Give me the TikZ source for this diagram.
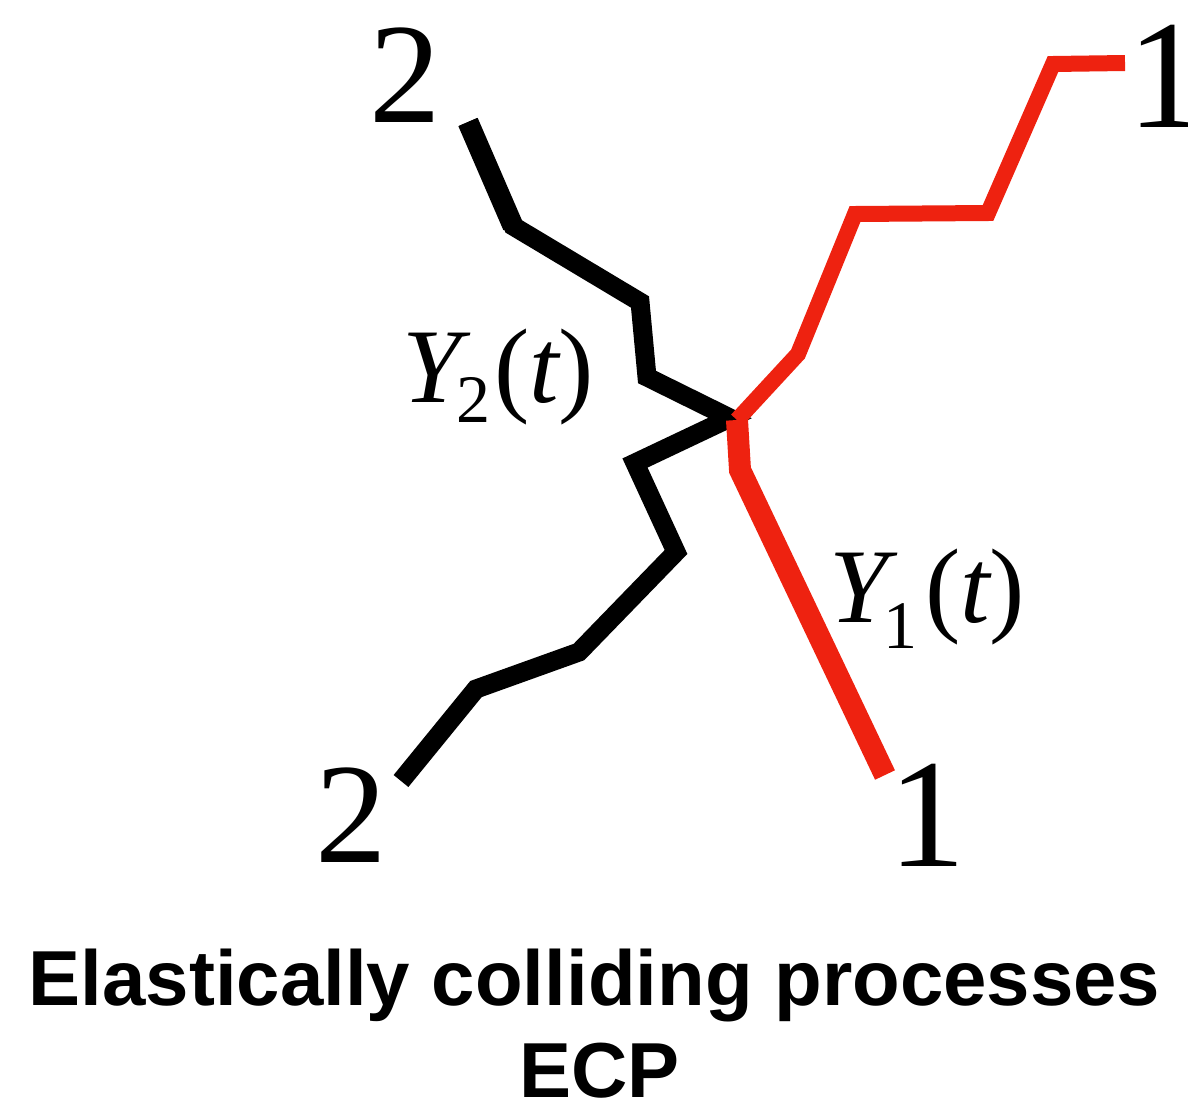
\documentclass[tikz,border=0pt]{standalone}
\usepackage{fontspec}
\setmainfont{Liberation Serif}
\newfontfamily\titlefont{Liberation Sans}
\definecolor{pathred}{RGB}{238,34,16}
\tikzset{
  lbltwo/.style={anchor=base, inner sep=0pt, font=\fontsize{143}{143}\selectfont},
  lblone/.style={anchor=base, inner sep=0pt, font=\fontsize{155}{155}\selectfont},
  proclbl/.style={anchor=base west, inner sep=0pt, font=\fontsize{106}{106}\selectfont},
  titlelbl/.style={anchor=base, inner sep=0pt, font=\titlefont\bfseries\fontsize{78}{78}\selectfont},
  blackpath/.style={draw=black, line width=19pt, line join=miter, line cap=butt},
  blackstart/.style={draw=black, line width=21pt, line cap=butt},
  redthin/.style={draw=pathred, line width=16pt, line join=miter, line cap=butt},
  redthick/.style={draw=pathred, line width=22pt, line join=miter, line cap=butt}
}
\newcommand{\subsh}[2]{\raisebox{-#1pt}{\fontsize{68}{68}\selectfont #2}}
\begin{document}
\begin{tikzpicture}[x=1pt,y=-1pt]
\useasboundingbox (0,0) rectangle (1188,1106);
% black path points
\coordinate (b0) at (468,122);
\coordinate (b1) at (513,226);
\coordinate (b2) at (640,302);
\coordinate (b3) at (647,377);
\coordinate (J)  at (730,418);
\coordinate (b5) at (635,463);
\coordinate (b6) at (676,552);
\coordinate (b7) at (579,652);
\coordinate (b8) at (476,689);
\coordinate (b9) at (401,781);
% red path points
\coordinate (r0) at (1125,63);
\coordinate (r1) at (1053,64);
\coordinate (r2) at (988,213);
\coordinate (r3) at (855,214);
\coordinate (r4) at (798,354);
\coordinate (rJ) at (737,420);
\coordinate (r6) at (740,470);
\coordinate (r7) at (885,775);
\draw[blackpath] (b0) -- (b1) -- (b2) -- (b3) -- (J) -- (b5) -- (b6) -- (b7) -- (b8) -- (b9);
\draw[blackstart] (b0) -- (b1);
\draw[redthin] (r0) -- (r1) -- (r2) -- (r3) -- (r4) -- (rJ);
\draw[redthick] (rJ) -- (r6) -- (r7);
% end labels
\node[lbltwo] (twoup) at (405.5,122) {2};
\node[lblone] (oneup) at (1166,127) {1};
\node[lbltwo] (twodown) at (351,862) {2};
\node[lblone] (onedown) at (927,866) {1};
% process labels
\node[proclbl] (ytwo) at (402,402) {\itshape Y\upshape\kern-5pt\subsh{20}{2}\kern4pt(\itshape t\upshape)};
\node[proclbl] (yone) at (829,622) {\itshape Y\upshape\kern-5pt\subsh{26}{1}\kern8pt(\itshape t\upshape)};
% title
\node[titlelbl] (title) at (594.5,1005) {Elastically colliding processes};
\node[titlelbl] (ecp) at (599.5,1097) {ECP};
\end{tikzpicture}
\end{document}
